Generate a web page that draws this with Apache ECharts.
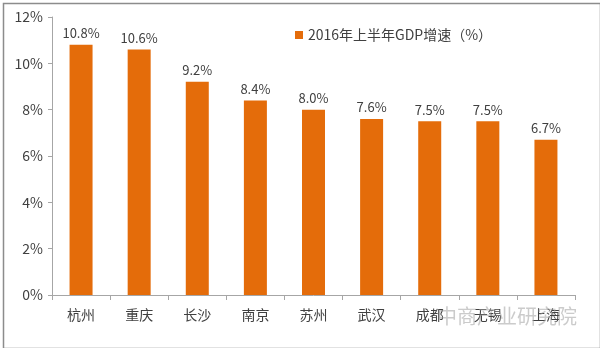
<!DOCTYPE html>
<html>
<head>
<meta charset="utf-8">
<script src="https://cdn.jsdelivr.net/npm/echarts@6/dist/echarts.min.js"></script>
<style>
html,body{margin:0;padding:0;background:#fff;}
#c{width:600px;height:348px;}
</style>
</head>
<body>
<div id="c"></div>
<script>
const categories = ['杭州','重庆','长沙','南京','苏州','武汉','成都','无锡','上海'];
const values = [10.8, 10.6, 9.2, 8.4, 8.0, 7.6, 7.5, 7.5, 6.7];
const seriesName = '2016年上半年GDP增速（%）';
const yTicks = [0, 2, 4, 6, 8, 10, 12];
const watermark = '中商产业研究院';

const font = '"Noto Sans CJK SC", "Microsoft YaHei", sans-serif';
const chart = echarts.init(document.getElementById('c'));
chart.setOption({
  animation: false,
  backgroundColor: '#fff',
  textStyle: { fontFamily: font },
  grid: { left: 52, right: 25, top: 17, bottom: 53, containLabel: false },
  legend: {
    data: [seriesName],
    left: 290, top: 23,
    itemWidth: 8, itemHeight: 8, itemGap: 6,
    icon: 'rect',
    textStyle: { color: '#404040', fontSize: 14, fontFamily: font }
  },
  xAxis: {
    type: 'category',
    data: categories,
    axisLine: { lineStyle: { color: '#a6a6a6' } },
    axisTick: { show: true, length: 5, inside: false, lineStyle: { color: '#a6a6a6' } },
    axisLabel: { color: '#404040', fontSize: 14, margin: 13, fontFamily: font }
  },
  yAxis: {
    type: 'value',
    min: yTicks[0], max: yTicks[yTicks.length - 1], interval: 2,
    axisLine: { show: true, lineStyle: { color: '#a6a6a6' } },
    axisTick: { show: true, length: 4, lineStyle: { color: '#a6a6a6' } },
    splitLine: { show: false },
    axisLabel: { color: '#404040', fontSize: 14, margin: 9, formatter: v => v + '%', fontFamily: font }
  },
  series: [{
    name: seriesName,
    type: 'bar',
    data: values,
    barWidth: 23,
    itemStyle: { color: '#E46C0A' },
    label: {
      show: true, position: 'top', distance: 5,
      color: '#404040', fontSize: 13, fontFamily: font,
      formatter: p => p.value.toFixed(1) + '%'
    }
  }],
  graphic: [
    { type: 'rect', left: 1, top: 1, shape: { width: 597, height: 345 }, style: { fill: 'none', stroke: '#8c8c8c', lineWidth: 1.5 }, silent: true },
    { type: 'text', left: 437, top: 306, style: { text: watermark, fill: 'rgba(160,160,160,0.55)', font: '20px ' + font }, silent: true, z: 100 }
  ]
});
</script>
</body>
</html>
